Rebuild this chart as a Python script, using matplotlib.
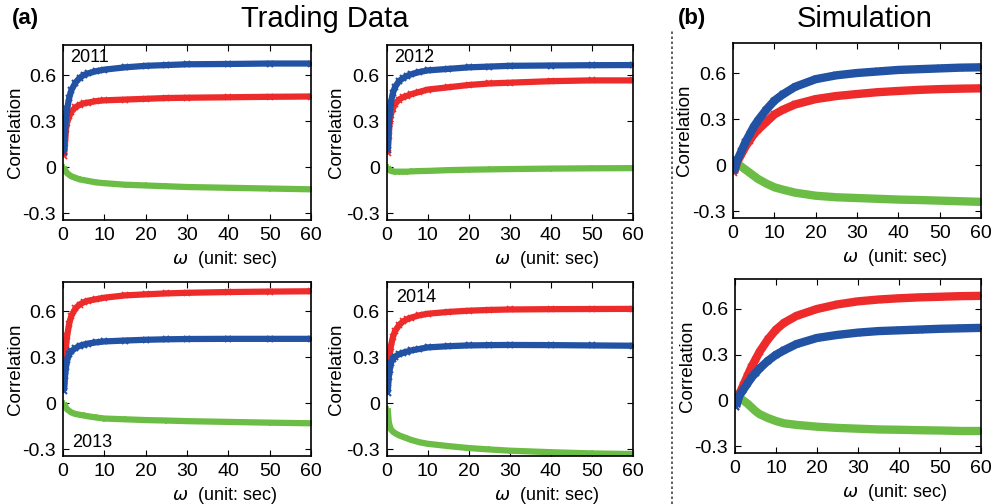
import numpy as np
import matplotlib
matplotlib.use('Agg')
import matplotlib.pyplot as plt
from matplotlib.lines import Line2D

plt.rcParams['font.family'] = ['Liberation Sans', 'DejaVu Sans']

BLUE = '#2152a3'
RED = '#ee2b2b'
GREEN = '#6bbd45'

# window length (sec) for the trading data panels
w_trade = [0.25, 0.5, 0.75, 1, 1.5, 2, 3, 4, 5, 6, 8, 10, 15, 20, 25, 30, 40, 50, 60]

blue_2011 = [0.10, 0.24, 0.32, 0.38, 0.45, 0.50, 0.55, 0.58, 0.60, 0.61, 0.625, 0.635, 0.65, 0.66, 0.665, 0.67, 0.672, 0.675, 0.675]
red_2011 = [0.07, 0.16, 0.25, 0.29, 0.33, 0.36, 0.39, 0.405, 0.415, 0.42, 0.43, 0.435, 0.44, 0.445, 0.45, 0.452, 0.455, 0.458, 0.46]
green_2011 = [0.0, -0.02, -0.03, -0.04, -0.05, -0.06, -0.07, -0.08, -0.085, -0.09, -0.1, -0.105, -0.115, -0.12, -0.125, -0.13, -0.135, -0.14, -0.145]

blue_2012 = [0.11, 0.28, 0.36, 0.42, 0.48, 0.52, 0.56, 0.58, 0.595, 0.605, 0.62, 0.63, 0.64, 0.65, 0.655, 0.66, 0.662, 0.664, 0.665]
red_2012 = [0.09, 0.20, 0.30, 0.34, 0.38, 0.41, 0.44, 0.455, 0.465, 0.475, 0.49, 0.505, 0.52, 0.535, 0.545, 0.55, 0.56, 0.565, 0.565]
green_2012 = [0.0, -0.01, -0.02, -0.025, -0.028, -0.03, -0.03, -0.03, -0.03, -0.028, -0.026, -0.025, -0.02, -0.017, -0.015, -0.013, -0.01, -0.008, -0.007]

blue_2013 = [0.08, 0.18, 0.24, 0.28, 0.32, 0.34, 0.36, 0.375, 0.383, 0.39, 0.398, 0.404, 0.41, 0.415, 0.418, 0.42, 0.421, 0.421, 0.421]
red_2013 = [0.11, 0.29, 0.38, 0.44, 0.52, 0.57, 0.62, 0.645, 0.66, 0.67, 0.68, 0.69, 0.705, 0.712, 0.718, 0.722, 0.727, 0.73, 0.732]
green_2013 = [0.0, -0.015, -0.03, -0.04, -0.05, -0.06, -0.07, -0.075, -0.08, -0.085, -0.093, -0.1, -0.105, -0.11, -0.113, -0.117, -0.122, -0.127, -0.131]

blue_2014 = [0.07, 0.17, 0.22, 0.26, 0.29, 0.305, 0.32, 0.33, 0.338, 0.345, 0.355, 0.365, 0.373, 0.378, 0.38, 0.381, 0.38, 0.378, 0.376]
red_2014 = [0.10, 0.25, 0.32, 0.37, 0.43, 0.47, 0.51, 0.535, 0.55, 0.56, 0.575, 0.585, 0.597, 0.605, 0.61, 0.613, 0.615, 0.616, 0.617]
green_2014 = [-0.04, -0.12, -0.15, -0.17, -0.185, -0.195, -0.21, -0.22, -0.23, -0.24, -0.255, -0.265, -0.28, -0.293, -0.302, -0.31, -0.32, -0.328, -0.332]

# window length (sec) for the simulation panels
w_sim = [0.25, 1, 2, 3, 4, 5, 6, 8, 10, 12, 15, 20, 25, 30, 35, 40, 45, 50, 55, 60]

blue_sim1 = [-0.04, 0.03, 0.09, 0.15, 0.20, 0.25, 0.29, 0.36, 0.42, 0.46, 0.51, 0.56, 0.585, 0.60, 0.61, 0.62, 0.625, 0.63, 0.635, 0.637]
red_sim1 = [-0.05, 0.02, 0.07, 0.12, 0.16, 0.20, 0.23, 0.28, 0.33, 0.36, 0.395, 0.43, 0.45, 0.463, 0.475, 0.483, 0.49, 0.495, 0.498, 0.50]
green_sim1 = [0.04, 0.01, -0.01, -0.03, -0.05, -0.07, -0.09, -0.12, -0.145, -0.16, -0.18, -0.20, -0.21, -0.215, -0.22, -0.225, -0.228, -0.232, -0.236, -0.24]

blue_sim2 = [-0.04, 0.03, 0.07, 0.11, 0.15, 0.18, 0.21, 0.26, 0.30, 0.33, 0.37, 0.41, 0.43, 0.445, 0.455, 0.46, 0.465, 0.47, 0.473, 0.476]
red_sim2 = [-0.04, 0.04, 0.10, 0.16, 0.22, 0.27, 0.32, 0.40, 0.465, 0.51, 0.555, 0.60, 0.63, 0.65, 0.662, 0.67, 0.676, 0.68, 0.684, 0.686]
green_sim2 = [0.05, 0.02, 0.0, -0.02, -0.045, -0.07, -0.09, -0.115, -0.135, -0.15, -0.16, -0.172, -0.18, -0.185, -0.19, -0.192, -0.195, -0.197, -0.20, -0.20]

yticks = [-0.3, 0, 0.3, 0.6]
yticklabels = ['-0.3', '0', '0.3', '0.6']
xticks = [0, 10, 20, 30, 40, 50, 60]

fig = plt.figure(figsize=(9.92, 5.04), dpi=100)


def panel(rect, w, blue, red, green, year=None, year_pos=None, lw=4.5, ylab_x=-0.16):
    ax = fig.add_axes(rect)
    ax.plot(w, green, color=GREEN, lw=lw, marker='+', ms=5, mew=1.2, solid_capstyle='butt')
    ax.plot(w, red, color=RED, lw=lw, marker='x', ms=4, mew=1.2, solid_capstyle='butt')
    ax.plot(w, blue, color=BLUE, lw=lw, marker='x', ms=4, mew=1.5, solid_capstyle='butt')
    ax.set_xlim(0, 60)
    ax.set_ylim(-0.345, 0.795)
    ax.set_xticks(xticks)
    ax.set_yticks(yticks)
    ax.set_yticklabels(yticklabels)
    ax.tick_params(direction='in', length=4, width=0.8, top=True, right=True,
                   labelsize=14, pad=5)
    for s in ax.spines.values():
        s.set_linewidth(1.2)
    ax.set_ylabel('Correlation', fontsize=13.5)
    ax.yaxis.set_label_coords(ylab_x, 0.5)
    ax.set_xlabel(r'$\omega$  (unit: sec)', fontsize=13)
    ax.xaxis.set_label_coords(0.65, -0.165)
    if year is not None:
        ax.text(year_pos[0], year_pos[1], year, transform=ax.transAxes,
                fontsize=13, va='center', ha='left')
    return ax


panel([0.0635, 0.5635, 0.250, 0.347], w_trade, blue_2011, red_2011, green_2011, '2011', (0.03, 0.93), ylab_x=-0.157)
panel([0.3898, 0.5635, 0.248, 0.347], w_trade, blue_2012, red_2012, green_2012, '2012', (0.03, 0.93), ylab_x=-0.17)
panel([0.0635, 0.0952, 0.250, 0.346], w_trade, blue_2013, red_2013, green_2013, '2013', (0.035, 0.08), ylab_x=-0.157)
panel([0.3898, 0.0952, 0.248, 0.346], w_trade, blue_2014, red_2014, green_2014, '2014', (0.04, 0.91), ylab_x=-0.17)
panel([0.739, 0.5675, 0.250, 0.347], w_sim, blue_sim1, red_sim1, green_sim1, lw=6, ylab_x=-0.16)
panel([0.741, 0.101, 0.248, 0.345], w_sim, blue_sim2, red_sim2, green_sim2, lw=6, ylab_x=-0.16)

fig.text(0.012, 0.963, '(a)', fontsize=16, fontweight='bold', va='center')
fig.text(0.327, 0.963, 'Trading Data', fontsize=21, ha='center', va='center')
fig.text(0.683, 0.963, '(b)', fontsize=16, fontweight='bold', va='center')
fig.text(0.872, 0.963, 'Simulation', fontsize=21, ha='center', va='center')

fig.add_artist(Line2D([0.677, 0.677], [0.0, 0.94], transform=fig.transFigure,
                      color='#444444', lw=1.2, linestyle=(0, (1.5, 1.5))))

fig.savefig('out.png', dpi=100)
